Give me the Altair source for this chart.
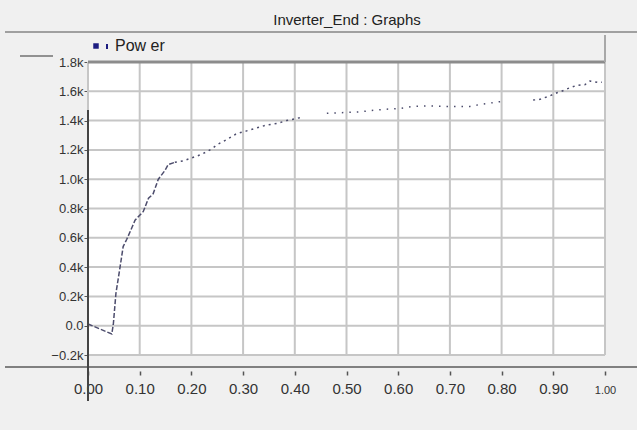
import altair as alt
import pandas as pd

# Power curve samples (x fraction, power in W), split into logged segments
seg1_x = [0.000, 0.046, 0.049, 0.054, 0.062, 0.068, 0.075, 0.085, 0.091, 0.107,
          0.117, 0.126, 0.136, 0.149, 0.155, 0.168]
seg1_p = [12, -57, 10, 220, 400, 540, 590, 670, 720, 780,
          870, 900, 1000, 1060, 1100, 1115]
seg2_x = [0.168, 0.184, 0.204, 0.220, 0.236,
          0.252, 0.268, 0.287, 0.307, 0.326, 0.346, 0.365, 0.384, 0.410]
seg2_p = [1115, 1125, 1150, 1170, 1200,
          1240, 1270, 1310, 1330, 1350, 1370, 1380, 1400, 1420]
seg3_x = [0.462, 0.497, 0.526, 0.552, 0.578, 0.603, 0.629, 0.655, 0.690, 0.739,
          0.758, 0.778, 0.794, 0.806]
seg3_p = [1450, 1455, 1460, 1470, 1478, 1483, 1497, 1500, 1497, 1497,
          1510, 1520, 1528, 1532]
seg4_x = [0.861, 0.874, 0.894, 0.907, 0.916, 0.929, 0.945, 0.961, 0.971, 0.987, 0.994]
seg4_p = [1540, 1545, 1570, 1590, 1600, 1620, 1640, 1645, 1670, 1660, 1662]

x_ticks = [0.0, 0.1, 0.2, 0.3, 0.4, 0.5, 0.6, 0.7, 0.8, 0.9, 1.0]
y_ticks = [-200, 0, 200, 400, 600, 800, 1000, 1200, 1400, 1600, 1800]

title_text = "Inverter_End : Graphs"
legend_text = "Pow er"

FONT = "Liberation Sans"
W, H = 517, 293

rows = []
for seg, style, xs, ps in (("a", "dense", seg1_x, seg1_p), ("b", "mid", seg2_x, seg2_p),
                           ("c", "sparse", seg3_x, seg3_p), ("d", "mid", seg4_x, seg4_p)):
    for xv, pv in zip(xs, ps):
        rows.append({"x": xv, "power": pv, "seg": seg, "style": style})
df = pd.DataFrame(rows)

x_scale = alt.Scale(domain=[0, 1], nice=False)
y_scale = alt.Scale(domain=[-200, 1800], nice=False, zero=False)
one = pd.DataFrame({"k": [0]})

x_axis = alt.Axis(values=x_ticks, format=".2f", grid=False, domain=False,
                  offset=16, tickSize=4, tickWidth=1.5, tickColor="#555555",
                  labelFont=FONT, labelColor="#333333",
                  labelFontSize={"condition": {"test": "datum.value >= 1", "value": 11},
                                 "value": 15},
                  labelBaseline="alphabetic", labelPadding=18,
                  labelFlush=False, labelOverlap=False)
y_axis = alt.Axis(values=y_ticks, grid=False, domain=False,
                  labelExpr="datum.value == 0 ? '0.0' : format(datum.value / 1000, '.1f') + 'k'",
                  tickSize=4, tickColor="#555555", labelPadding=1,
                  labelFont=FONT, labelFontSize=13, labelColor="#333333",
                  labelFlush=False, labelOverlap=False)

# grid
vgrid = alt.Chart(pd.DataFrame({"x": x_ticks})).mark_rule(
    color="#c6c6c6", strokeWidth=2
).encode(
    x=alt.X("x:Q", scale=x_scale, axis=x_axis, title=None),
    y=alt.value(0), y2=alt.value(H),
)
hgrid = alt.Chart(pd.DataFrame({"power": y_ticks})).mark_rule(
    color="#c6c6c6", strokeWidth=2
).encode(
    y=alt.Y("power:Q", scale=y_scale, axis=y_axis, title=None),
    x=alt.value(0), x2=alt.value(W),
)

# frame pieces around the plot
top_border = alt.Chart(one).mark_rule(color="#8c8c8c", strokeWidth=3).encode(
    x=alt.value(0), x2=alt.value(W), y=alt.value(0))
strip_right = alt.Chart(one).mark_rule(color="#a8a8a8", strokeWidth=2).encode(
    x=alt.value(W), y=alt.value(-27), y2=alt.value(0))
title_rule = alt.Chart(one).mark_rule(color="#a0a0a0", strokeWidth=2).encode(
    x=alt.value(-83), x2=alt.value(549), y=alt.value(-30))
axis_rule = alt.Chart(one).mark_rule(color="#808080", strokeWidth=2).encode(
    x=alt.value(-83), x2=alt.value(549), y=alt.value(305))
y_rule = alt.Chart(one).mark_rule(color="#444444", strokeWidth=2).encode(
    x=alt.value(0), y=alt.value(48), y2=alt.value(339))
key_rule = alt.Chart(one).mark_rule(color="#333333", strokeWidth=1).encode(
    x=alt.value(-68), x2=alt.value(-35), y=alt.value(-6))

title = alt.Chart(one).mark_text(
    font=FONT, fontSize=15, color="#222222", align="center", baseline="middle"
).encode(x=alt.value(259), y=alt.value(-42), text=alt.value(title_text))

legend_label = alt.Chart(one).mark_text(
    font=FONT, fontSize=16, color="#222222", align="left", baseline="middle"
).encode(x=alt.value(27), y=alt.value(-16), text=alt.value(legend_text))
legend_icon = alt.Chart(one).mark_point(
    shape="square", filled=True, color="#1c1c80", size=30, opacity=1
).encode(x=alt.value(8), y=alt.value(-16))
legend_bar = alt.Chart(one).mark_rule(color="#1c1c80", strokeWidth=2).encode(
    x=alt.value(19), y=alt.value(-18), y2=alt.value(-13))

power_line = alt.Chart(df).mark_line(
    color="#4c4c6c", strokeWidth=1.5
).encode(
    x=alt.X("x:Q", scale=x_scale, axis=x_axis, title=None),
    y=alt.Y("power:Q", scale=y_scale, axis=y_axis, title=None),
    strokeDash=alt.StrokeDash(
        "style:N",
        scale=alt.Scale(domain=["dense", "mid", "sparse"],
                        range=[[5, 2], [2, 4], [1.5, 6]]),
        legend=None,
    ),
    detail="seg:N",
)

chart = alt.layer(
    vgrid, hgrid, top_border, strip_right, title_rule, axis_rule, key_rule,
    power_line, y_rule, title, legend_label, legend_icon, legend_bar,
).properties(
    width=W, height=H,
    autosize=alt.AutoSizeParams(type="none"),
    padding={"left": 88, "top": 62, "right": 32, "bottom": 75},
    background="#f0f0f0",
).configure_view(fill="white", stroke=None)

chart.save("out.html", embed_options={"renderer": "svg", "actions": False})
